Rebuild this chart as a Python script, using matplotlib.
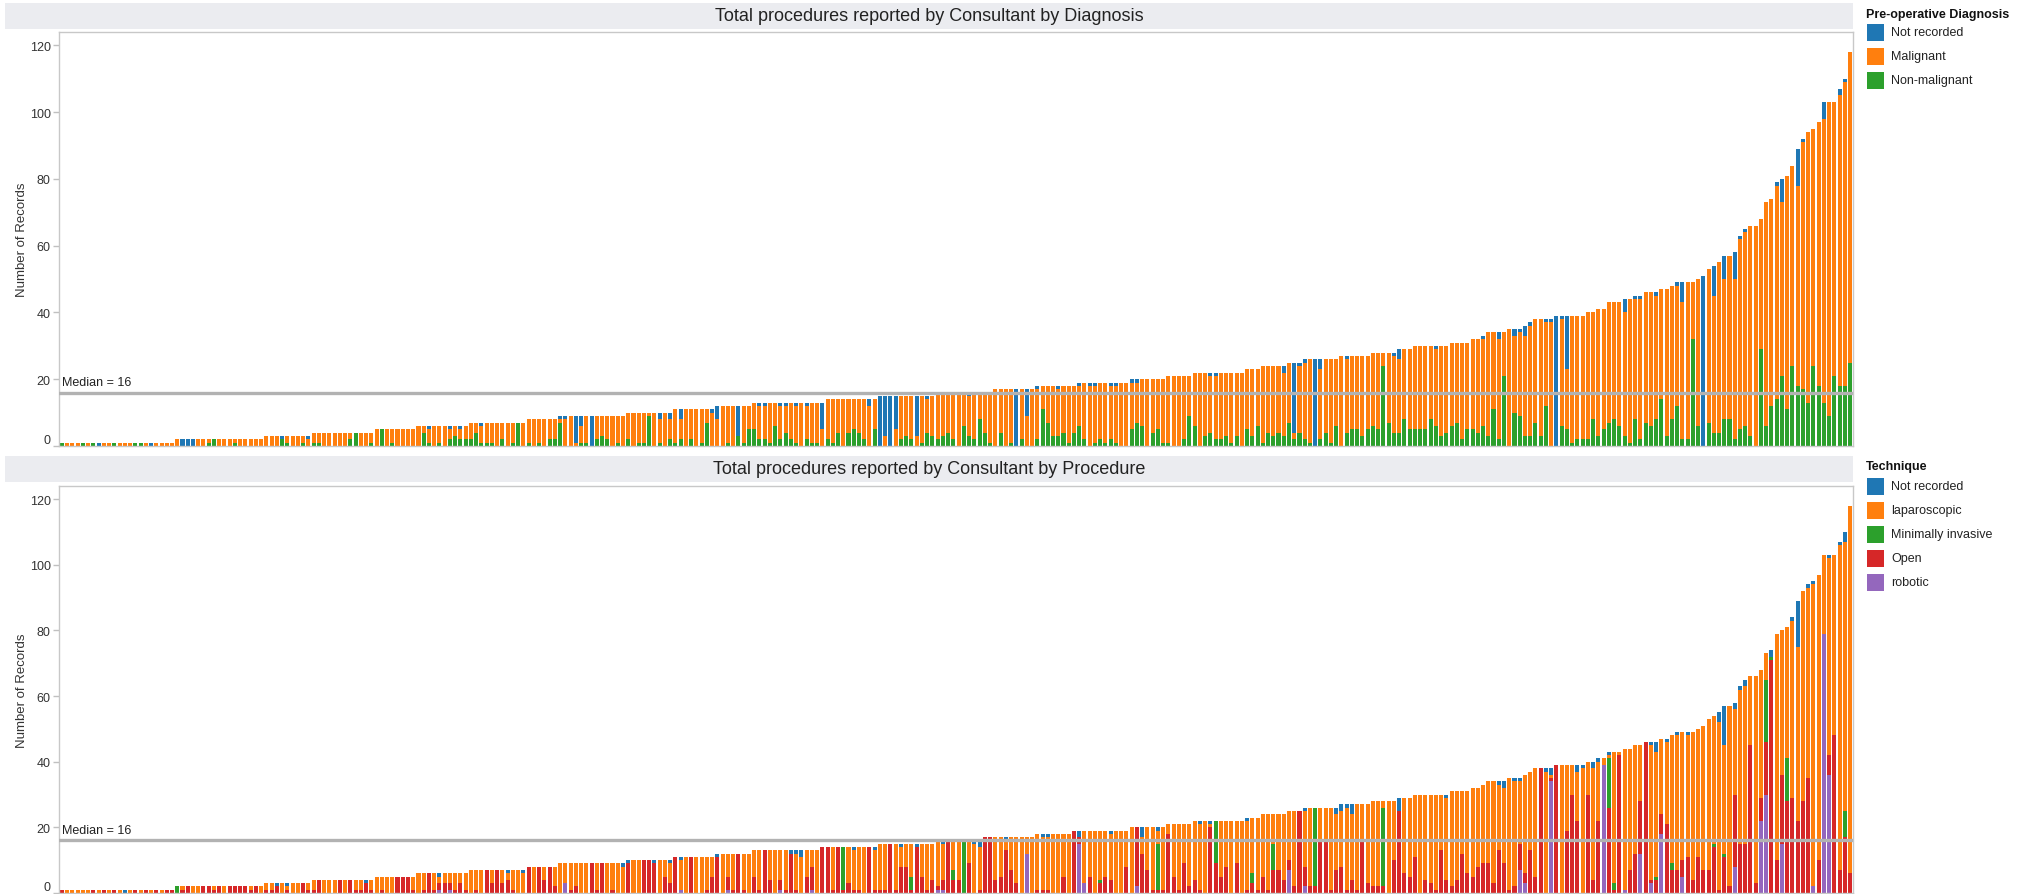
import matplotlib
matplotlib.use("Agg")
import matplotlib.pyplot as plt
from matplotlib.patches import Rectangle
import numpy as np

#---------------------------------------#
# DATA (one entry per consultant, sorted by total)
#---------------------------------------#
TOTALS = [
    1, 1, 1, 1, 1, 1, 1, 1, 1, 1,
    1, 1, 1, 1, 1, 1, 1, 1, 1, 1,
    1, 1, 2, 2, 2, 2, 2, 2, 2, 2,
    2, 2, 2, 2, 2, 2, 2, 2, 2, 3,
    3, 3, 3, 3, 3, 3, 3, 3, 4, 4,
    4, 4, 4, 4, 4, 4, 4, 4, 4, 4,
    5, 5, 5, 5, 5, 5, 5, 5, 6, 6,
    6, 6, 6, 6, 6, 6, 6, 6, 7, 7,
    7, 7, 7, 7, 7, 7, 7, 7, 7, 8,
    8, 8, 8, 8, 8, 9, 9, 9, 9, 9,
    9, 9, 9, 9, 9, 9, 9, 9, 10, 10,
    10, 10, 10, 10, 10, 10, 10, 11, 11, 11,
    11, 11, 11, 11, 11, 12, 12, 12, 12, 12,
    12, 12, 13, 13, 13, 13, 13, 13, 13, 13,
    13, 13, 13, 13, 13, 13, 14, 14, 14, 14,
    14, 14, 14, 14, 14, 14, 15, 15, 15, 15,
    15, 15, 15, 15, 15, 15, 15, 16, 16, 16,
    16, 16, 16, 16, 16, 16, 16, 16, 17, 17,
    17, 17, 17, 17, 17, 17, 18, 18, 18, 18,
    18, 18, 18, 18, 19, 19, 19, 19, 19, 19,
    19, 19, 19, 19, 20, 20, 20, 20, 20, 20,
    20, 21, 21, 21, 21, 21, 22, 22, 22, 22,
    22, 22, 22, 22, 22, 22, 23, 23, 23, 24,
    24, 24, 24, 24, 25, 25, 25, 26, 26, 26,
    26, 26, 26, 26, 27, 27, 27, 27, 27, 27,
    28, 28, 28, 28, 28, 29, 29, 29, 30, 30,
    30, 30, 30, 30, 30, 31, 31, 31, 31, 32,
    32, 33, 34, 34, 34, 34, 35, 35, 35, 36,
    37, 38, 38, 38, 38, 39, 39, 39, 39, 39,
    39, 40, 40, 41, 41, 43, 43, 43, 44, 44,
    45, 45, 46, 46, 46, 47, 47, 48, 49, 49,
    49, 49, 50, 51, 53, 54, 55, 57, 57, 58,
    63, 65, 66, 66, 68, 73, 74, 79, 80, 81,
    84, 89, 92, 94, 95, 97, 103, 103, 103, 107,
    110, 118,
]

# pre-operative diagnosis (malignant = the rest of each bar)
DIAG_NOT_RECORDED = [
    0, 0, 0, 0, 0, 0, 0, 1, 0, 0,
    0, 0, 0, 0, 0, 0, 0, 1, 0, 0,
    0, 0, 0, 2, 2, 2, 0, 0, 0, 0,
    0, 0, 0, 0, 0, 0, 0, 0, 0, 0,
    0, 0, 1, 0, 0, 0, 0, 1, 0, 0,
    0, 0, 0, 0, 0, 0, 0, 0, 0, 0,
    0, 0, 0, 0, 0, 0, 0, 0, 0, 0,
    1, 0, 0, 0, 1, 0, 1, 0, 0, 0,
    1, 0, 0, 0, 0, 0, 0, 0, 0, 0,
    0, 0, 0, 0, 0, 1, 1, 0, 8, 3,
    0, 9, 0, 0, 0, 0, 0, 0, 0, 0,
    0, 0, 0, 0, 2, 0, 2, 0, 3, 0,
    0, 0, 0, 0, 1, 4, 0, 0, 0, 9,
    0, 0, 0, 1, 1, 0, 0, 1, 1, 0,
    1, 0, 1, 0, 0, 8, 0, 0, 0, 0,
    0, 0, 0, 0, 2, 0, 15, 12, 15, 10,
    0, 0, 0, 12, 0, 1, 0, 0, 0, 0,
    0, 0, 0, 1, 0, 0, 0, 0, 0, 0,
    0, 0, 17, 0, 8, 0, 1, 0, 0, 0,
    1, 0, 0, 0, 1, 0, 1, 1, 0, 0,
    1, 1, 0, 0, 1, 1, 0, 0, 0, 0,
    0, 0, 0, 0, 0, 0, 0, 0, 0, 1,
    1, 0, 0, 0, 0, 0, 0, 0, 0, 0,
    0, 0, 0, 2, 0, 21, 1, 1, 0, 26,
    3, 0, 0, 0, 0, 1, 0, 0, 0, 0,
    0, 0, 0, 0, 1, 3, 0, 0, 0, 0,
    0, 0, 1, 0, 0, 0, 0, 0, 0, 0,
    0, 1, 0, 0, 2, 0, 0, 2, 1, 3,
    1, 0, 0, 1, 1, 39, 1, 16, 0, 0,
    0, 0, 0, 0, 0, 0, 0, 0, 4, 0,
    1, 1, 0, 0, 1, 0, 0, 0, 1, 6,
    0, 0, 0, 51, 0, 9, 0, 7, 0, 8,
    1, 1, 0, 0, 0, 0, 0, 1, 7, 0,
    0, 11, 1, 0, 0, 0, 5, 0, 0, 2,
    1, 0,
]
DIAG_NON_MALIGNANT = [
    1, 0, 0, 0, 1, 0, 1, 0, 0, 0,
    1, 0, 0, 0, 1, 1, 0, 0, 0, 0,
    0, 0, 0, 0, 0, 0, 0, 0, 1, 2,
    0, 0, 0, 1, 0, 0, 0, 0, 0, 0,
    0, 0, 2, 1, 0, 0, 1, 0, 1, 1,
    0, 0, 0, 0, 0, 2, 4, 0, 0, 1,
    0, 5, 0, 1, 0, 0, 0, 0, 0, 4,
    1, 0, 1, 0, 2, 3, 2, 2, 2, 4,
    1, 1, 1, 0, 2, 0, 1, 7, 0, 1,
    0, 1, 0, 2, 2, 7, 0, 0, 0, 1,
    1, 0, 2, 3, 2, 0, 1, 0, 2, 0,
    1, 1, 9, 0, 1, 0, 2, 1, 2, 0,
    2, 0, 1, 7, 0, 0, 0, 1, 0, 3,
    1, 5, 5, 2, 2, 1, 6, 2, 4, 2,
    1, 0, 2, 1, 1, 0, 2, 1, 4, 0,
    4, 5, 4, 2, 0, 5, 0, 0, 0, 0,
    2, 3, 2, 0, 1, 4, 3, 2, 3, 4,
    2, 0, 6, 3, 2, 8, 4, 1, 0, 4,
    0, 1, 0, 2, 0, 0, 2, 11, 7, 3,
    3, 4, 1, 4, 6, 2, 0, 1, 2, 1,
    2, 1, 0, 0, 5, 7, 6, 0, 4, 5,
    1, 1, 0, 0, 2, 9, 6, 0, 3, 4,
    2, 2, 3, 1, 3, 0, 5, 3, 6, 1,
    4, 3, 4, 3, 7, 2, 4, 2, 1, 0,
    2, 4, 1, 6, 0, 4, 5, 5, 3, 5,
    6, 5, 24, 7, 4, 4, 8, 5, 5, 5,
    5, 8, 6, 3, 4, 6, 7, 2, 5, 5,
    4, 6, 3, 11, 2, 21, 0, 10, 9, 3,
    3, 7, 3, 12, 0, 0, 6, 5, 1, 2,
    2, 2, 8, 3, 5, 7, 8, 6, 3, 1,
    8, 2, 7, 6, 8, 14, 3, 8, 12, 2,
    2, 32, 6, 0, 7, 4, 4, 8, 8, 2,
    5, 6, 3, 0, 29, 6, 12, 14, 21, 11,
    24, 18, 17, 13, 24, 18, 13, 9, 21, 18,
    18, 25,
]

# technique (laparoscopic = the rest of each bar)
TECH_NOT_RECORDED = [
    0, 0, 0, 0, 0, 0, 0, 0, 0, 0,
    0, 0, 1, 0, 0, 0, 0, 0, 0, 0,
    0, 0, 0, 0, 0, 0, 0, 0, 0, 0,
    0, 0, 0, 0, 0, 0, 0, 0, 0, 0,
    0, 1, 0, 1, 0, 0, 0, 0, 0, 0,
    0, 0, 0, 0, 0, 0, 0, 0, 1, 0,
    0, 0, 0, 0, 0, 0, 0, 0, 0, 0,
    0, 0, 1, 0, 0, 0, 0, 0, 0, 0,
    0, 0, 0, 0, 0, 1, 0, 0, 1, 0,
    0, 0, 0, 0, 0, 0, 0, 0, 0, 0,
    0, 0, 0, 0, 0, 0, 0, 1, 1, 0,
    0, 0, 0, 1, 0, 0, 1, 0, 1, 0,
    0, 0, 0, 0, 0, 1, 0, 0, 0, 0,
    0, 0, 0, 0, 0, 0, 0, 0, 0, 1,
    1, 2, 0, 0, 0, 0, 0, 0, 0, 0,
    0, 1, 0, 0, 0, 1, 0, 0, 0, 0,
    1, 0, 0, 1, 0, 0, 0, 0, 1, 0,
    0, 0, 0, 0, 1, 2, 0, 0, 0, 0,
    1, 0, 0, 0, 0, 0, 0, 1, 1, 0,
    0, 0, 0, 0, 2, 0, 0, 0, 0, 0,
    1, 0, 0, 0, 0, 0, 3, 0, 0, 1,
    0, 0, 0, 0, 0, 0, 0, 1, 0, 1,
    0, 0, 0, 0, 0, 0, 1, 0, 0, 0,
    0, 0, 0, 0, 0, 0, 0, 1, 0, 0,
    0, 0, 0, 2, 2, 1, 3, 0, 0, 0,
    0, 0, 0, 0, 0, 4, 0, 0, 0, 0,
    0, 0, 0, 0, 1, 0, 0, 0, 0, 0,
    0, 0, 0, 0, 1, 2, 0, 1, 1, 0,
    0, 0, 0, 1, 2, 0, 0, 0, 0, 2,
    1, 0, 2, 1, 0, 1, 0, 0, 0, 0,
    0, 0, 0, 1, 3, 0, 1, 0, 1, 0,
    1, 0, 0, 0, 0, 0, 3, 12, 0, 2,
    1, 2, 0, 0, 0, 0, 2, 0, 0, 0,
    1, 14, 0, 1, 1, 0, 0, 1, 0, 1,
    3, 0,
]
TECH_MIN_INVASIVE = [
    0, 0, 0, 0, 0, 0, 0, 0, 0, 0,
    0, 0, 0, 0, 0, 0, 0, 0, 0, 0,
    0, 0, 2, 0, 0, 0, 0, 0, 0, 0,
    0, 0, 0, 0, 0, 0, 0, 0, 0, 0,
    0, 0, 0, 0, 0, 0, 0, 0, 0, 0,
    0, 0, 0, 0, 0, 0, 0, 0, 0, 0,
    0, 0, 0, 0, 0, 0, 0, 0, 0, 0,
    0, 0, 0, 0, 0, 0, 0, 0, 0, 0,
    0, 0, 0, 0, 0, 0, 0, 0, 0, 0,
    0, 0, 0, 0, 0, 0, 0, 0, 0, 0,
    0, 0, 0, 0, 0, 0, 0, 0, 0, 0,
    0, 0, 0, 0, 0, 0, 0, 0, 0, 0,
    0, 0, 0, 0, 0, 0, 0, 0, 0, 0,
    0, 0, 0, 0, 0, 0, 0, 0, 0, 0,
    0, 0, 0, 0, 0, 0, 0, 0, 0, 13,
    0, 0, 0, 0, 0, 0, 0, 0, 0, 0,
    0, 0, 4, 0, 0, 0, 0, 0, 0, 0,
    3, 0, 16, 0, 0, 0, 0, 0, 0, 0,
    0, 0, 0, 0, 0, 0, 0, 0, 0, 0,
    0, 0, 0, 0, 0, 0, 0, 0, 1, 0,
    0, 0, 0, 0, 0, 0, 0, 0, 0, 14,
    0, 0, 0, 0, 0, 0, 0, 0, 0, 0,
    13, 0, 0, 0, 0, 0, 0, 3, 0, 0,
    0, 8, 0, 0, 0, 0, 0, 0, 0, 24,
    0, 0, 0, 0, 0, 0, 0, 0, 0, 0,
    0, 0, 24, 0, 0, 0, 0, 0, 0, 0,
    0, 0, 0, 0, 0, 0, 0, 0, 0, 0,
    0, 0, 0, 0, 0, 0, 0, 0, 0, 0,
    0, 0, 0, 0, 0, 0, 0, 0, 0, 0,
    0, 0, 0, 0, 0, 15, 2, 0, 0, 0,
    0, 0, 0, 0, 1, 0, 0, 2, 0, 0,
    0, 0, 0, 0, 0, 1, 0, 1, 0, 0,
    0, 0, 0, 0, 0, 19, 1, 0, 0, 13,
    0, 0, 0, 0, 0, 0, 0, 0, 0, 0,
    8, 0,
]
TECH_OPEN = [
    1, 0, 0, 0, 0, 0, 1, 0, 1, 0,
    1, 0, 0, 0, 1, 0, 1, 0, 1, 0,
    1, 1, 0, 1, 2, 0, 0, 2, 2, 1,
    2, 0, 2, 2, 2, 2, 1, 2, 0, 1,
    1, 2, 0, 1, 0, 0, 3, 1, 1, 4,
    0, 0, 0, 4, 0, 4, 1, 1, 3, 1,
    0, 1, 0, 0, 5, 5, 5, 1, 0, 1,
    6, 1, 2, 3, 2, 1, 3, 1, 0, 1,
    0, 7, 3, 7, 3, 4, 1, 0, 0, 8,
    0, 8, 4, 8, 2, 0, 0, 1, 2, 0,
    0, 9, 1, 9, 0, 1, 0, 0, 9, 0,
    0, 10, 10, 9, 0, 5, 3, 11, 0, 0,
    11, 0, 0, 1, 5, 11, 0, 4, 1, 12,
    1, 0, 5, 1, 13, 4, 0, 3, 1, 12,
    1, 0, 5, 7, 0, 14, 14, 1, 14, 1,
    3, 1, 1, 0, 14, 1, 1, 1, 15, 1,
    8, 8, 1, 14, 5, 1, 4, 1, 3, 16,
    4, 4, 0, 9, 0, 1, 17, 17, 4, 5,
    13, 7, 3, 0, 0, 0, 1, 1, 1, 0,
    0, 5, 0, 19, 2, 0, 5, 0, 3, 5,
    4, 0, 0, 8, 0, 18, 12, 7, 1, 1,
    1, 18, 5, 1, 9, 2, 4, 1, 0, 20,
    9, 5, 8, 0, 9, 0, 1, 3, 1, 5,
    1, 7, 7, 4, 3, 2, 25, 6, 2, 2,
    16, 16, 1, 7, 8, 1, 4, 1, 16, 3,
    2, 2, 2, 0, 10, 25, 6, 5, 11, 0,
    4, 3, 1, 13, 4, 2, 4, 12, 6, 5,
    8, 9, 9, 3, 13, 9, 1, 2, 8, 3,
    13, 5, 38, 0, 1, 39, 0, 19, 30, 22,
    0, 30, 4, 22, 0, 26, 1, 42, 0, 7,
    12, 16, 46, 1, 4, 6, 21, 7, 7, 5,
    11, 4, 11, 7, 7, 14, 1, 11, 2, 22,
    15, 15, 45, 3, 7, 16, 71, 10, 21, 28,
    29, 22, 28, 35, 0, 10, 0, 6, 48, 7,
    17, 6,
]
TECH_ROBOTIC = [
    0, 0, 0, 0, 0, 0, 0, 0, 0, 0,
    0, 0, 0, 0, 0, 0, 0, 0, 0, 0,
    0, 0, 0, 0, 0, 0, 0, 0, 0, 0,
    0, 0, 0, 0, 0, 0, 0, 0, 0, 0,
    0, 0, 0, 0, 0, 0, 0, 0, 0, 0,
    0, 0, 0, 0, 0, 0, 0, 0, 0, 0,
    0, 0, 0, 0, 0, 0, 0, 0, 0, 0,
    0, 0, 1, 0, 1, 0, 0, 0, 0, 0,
    0, 0, 0, 0, 0, 0, 0, 0, 0, 0,
    0, 0, 0, 0, 0, 0, 3, 0, 0, 0,
    0, 0, 0, 0, 0, 0, 0, 0, 0, 0,
    0, 0, 0, 0, 0, 0, 0, 0, 1, 0,
    0, 0, 0, 0, 0, 0, 0, 1, 0, 0,
    0, 0, 0, 0, 0, 0, 0, 1, 0, 0,
    0, 0, 0, 1, 0, 0, 0, 0, 0, 0,
    0, 0, 0, 0, 0, 0, 0, 0, 0, 0,
    0, 0, 0, 0, 0, 0, 0, 1, 1, 0,
    0, 0, 0, 0, 0, 0, 0, 0, 0, 0,
    0, 0, 0, 0, 12, 0, 0, 0, 0, 0,
    0, 0, 0, 0, 15, 3, 0, 0, 0, 0,
    0, 0, 0, 0, 0, 2, 0, 0, 0, 0,
    0, 0, 0, 0, 0, 0, 0, 0, 0, 0,
    0, 0, 0, 0, 0, 0, 0, 0, 0, 0,
    0, 0, 0, 0, 7, 0, 0, 2, 0, 0,
    0, 0, 0, 0, 0, 0, 0, 0, 0, 0,
    0, 0, 0, 0, 0, 0, 0, 0, 0, 0,
    0, 0, 0, 0, 0, 0, 0, 0, 0, 0,
    0, 0, 0, 0, 0, 0, 0, 0, 7, 3,
    0, 0, 0, 0, 34, 0, 0, 0, 0, 0,
    0, 0, 0, 0, 39, 0, 0, 0, 1, 0,
    0, 12, 0, 3, 0, 18, 0, 0, 0, 5,
    0, 0, 0, 0, 0, 0, 0, 0, 0, 8,
    0, 0, 0, 0, 22, 30, 0, 0, 15, 0,
    0, 0, 0, 0, 2, 0, 79, 36, 0, 0,
    0, 0,
]

MEDIAN = 16
Y_TICKS = [0, 20, 40, 60, 80, 100, 120]

DIAG_TITLE = "Total procedures reported by Consultant by Diagnosis"
TECH_TITLE = "Total procedures reported by Consultant by Procedure"
DIAG_LEGEND_TITLE = "Pre-operative Diagnosis"
DIAG_LABELS = ["Not recorded", "Malignant", "Non-malignant"]
TECH_LEGEND_TITLE = "Technique"
TECH_LABELS = ["Not recorded", "laparoscopic", "Minimally invasive", "Open", "robotic"]

#---------------------------------------#
# STYLE
#---------------------------------------#
BLUE, ORANGE, GREEN, RED, PURPLE = "#1f77b4", "#ff7f0e", "#2ca02c", "#d62728", "#9467bd"
DIAG_COLOURS = [BLUE, ORANGE, GREEN]
TECH_COLOURS = [BLUE, ORANGE, GREEN, RED, PURPLE]
HEADER_COLOUR = "#ebecf0"
FRAME_COLOUR = "#c8c8c8"
MEDIAN_COLOUR = "#b2b2b2"
BAR_WIDTH = 0.77
W, H = 2042, 895

plt.rcParams['font.family'] = ['Liberation Sans', 'DejaVu Sans']


"""
pixel box (left, top, right, bottom) -> figure fraction rect
"""
def px_rect(left, top, right, bottom):
    return [left / W, 1 - bottom / H, (right - left) / W, (bottom - top) / H]


"""
grey title strip above each panel
"""
def draw_header(fig, top, bottom, title):
    x0, y0, w, h = px_rect(5, top, 1853, bottom)
    fig.add_artist(Rectangle((x0, y0), w, h, transform=fig.transFigure,
                             facecolor=HEADER_COLOUR, edgecolor='none'))
    fig.text(x0 + w / 2, y0 + h / 2, title, ha='center', va='center',
             fontsize=13, color='#222222')


"""
stack the series from the bottom up
"""
def draw_stacked(ax, series, colours):
    x = np.arange(len(TOTALS))
    bottom = np.zeros(len(TOTALS))
    for values, colour in zip(series, colours):
        values = np.asarray(values, dtype=float)
        ax.bar(x, values, width=BAR_WIDTH, bottom=bottom, color=colour,
               linewidth=0, zorder=2)
        bottom += values


"""
axis look shared by both panels
"""
def style_axis(ax):
    n = len(TOTALS)
    ax.set_xlim(-0.55, n - 0.45)
    ax.set_ylim(0, 124)
    ax.set_xticks([])
    ax.set_yticks(Y_TICKS)
    ax.tick_params(axis='y', length=4, width=1, color='#c0c0c0', pad=2,
                   labelsize=9, labelcolor='#333333')
    for lab in ax.get_yticklabels():
        if lab.get_text() == '0':
            lab.set_va('bottom')
    for spine in ax.spines.values():
        spine.set_color(FRAME_COLOUR)
        spine.set_linewidth(1)
    ax.set_ylabel("Number of Records", fontsize=9.5, color='#333333')
    ax.yaxis.set_label_coords((27.5 - 59) / 1794, 0.5)

    ax.axhline(MEDIAN, color=MEDIAN_COLOUR, lw=2.4, zorder=5)
    ax.annotate(f"Median = {MEDIAN}", xy=(0, MEDIAN), xycoords=('axes fraction', 'data'),
                xytext=(2.5, 3), textcoords='offset points', fontsize=9,
                color='#222222', va='bottom', ha='left')


"""
legend drawn at the right of a panel
"""
def draw_legend(fig, title_y, first_row_y, title, labels, colours):
    fig.text(1866 / W, 1 - title_y / H, title, fontsize=9, fontweight='bold',
             va='center', ha='left', color='#111111')
    for i, (label, colour) in enumerate(zip(labels, colours)):
        y = first_row_y + 24 * i
        fig.add_artist(Rectangle((1867 / W, 1 - (y + 8.5) / H), 17 / W, 17 / H,
                                 transform=fig.transFigure, facecolor=colour,
                                 edgecolor='none'))
        fig.text(1891 / W, 1 - y / H, label, fontsize=9, va='center', ha='left',
                 color='#222222')


def main() -> None:
    for arr in (DIAG_NOT_RECORDED, DIAG_NON_MALIGNANT, TECH_NOT_RECORDED,
                TECH_MIN_INVASIVE, TECH_OPEN, TECH_ROBOTIC):
        assert len(arr) == len(TOTALS), len(arr)

    totals = np.array(TOTALS, dtype=float)
    diag_nr = np.array(DIAG_NOT_RECORDED, dtype=float)
    diag_nm = np.array(DIAG_NON_MALIGNANT, dtype=float)
    diag_mal = np.clip(totals - diag_nr - diag_nm, 0, None)

    tech_nr = np.array(TECH_NOT_RECORDED, dtype=float)
    tech_mi = np.array(TECH_MIN_INVASIVE, dtype=float)
    tech_open = np.array(TECH_OPEN, dtype=float)
    tech_rob = np.array(TECH_ROBOTIC, dtype=float)
    tech_lap = np.clip(totals - tech_nr - tech_mi - tech_open - tech_rob, 0, None)

    fig = plt.figure(figsize=(W / 100, H / 100), dpi=100)

    # top panel: diagnosis
    draw_header(fig, 4, 30, DIAG_TITLE)
    ax1 = fig.add_axes(px_rect(59, 33, 1853, 447))
    draw_stacked(ax1, [diag_nm, diag_mal, diag_nr], [GREEN, ORANGE, BLUE])
    style_axis(ax1)
    draw_legend(fig, 15, 33, DIAG_LEGEND_TITLE, DIAG_LABELS, DIAG_COLOURS)

    # bottom panel: technique
    draw_header(fig, 457, 483, TECH_TITLE)
    ax2 = fig.add_axes(px_rect(59, 487, 1853, 894))
    draw_stacked(ax2, [tech_rob, tech_open, tech_mi, tech_lap, tech_nr],
                 [PURPLE, RED, GREEN, ORANGE, BLUE])
    style_axis(ax2)
    draw_legend(fig, 467, 487, TECH_LEGEND_TITLE, TECH_LABELS, TECH_COLOURS)

    fig.savefig("out.png", dpi=100)


#---------------------------------------#
main()
#---------------------------------------#
